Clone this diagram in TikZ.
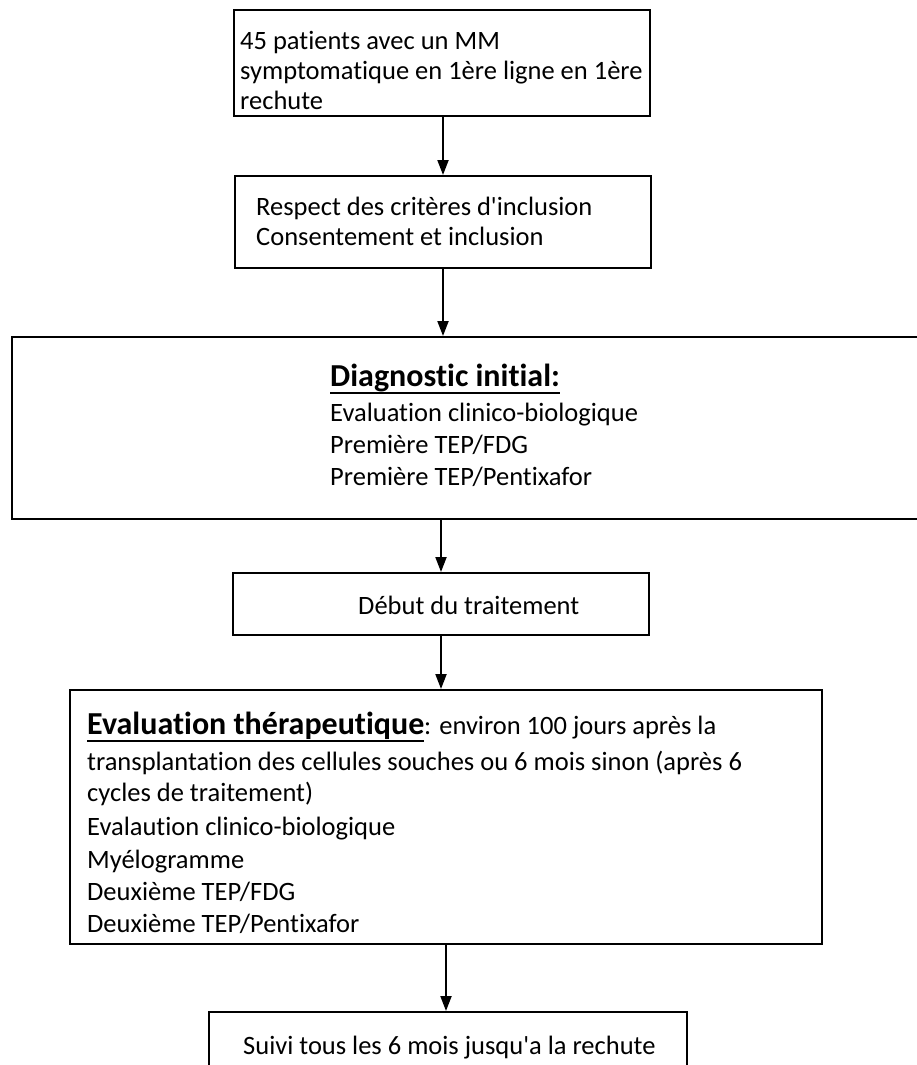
\documentclass[tikz,border=0pt]{standalone}
\usepackage{fontspec}
\setmainfont{Carlito}[Ligatures={ResetAll,NoCommon}]
\usetikzlibrary{arrows.meta}
\newcommand\bodysz{\fontsize{26.5}{31}\selectfont}
\newcommand\headsz{\fontsize{32}{36}\selectfont\bfseries}
\newcommand\myul[1]{\setbox0\hbox{#1}\leavevmode\rlap{\vrule height -5.5pt depth 7.5pt width \wd0}\box0}
\begin{document}
\begin{tikzpicture}[x=1pt,y=-1pt,
  box/.style={draw=black,line width=2pt,inner sep=0pt,fill=none},
  body/.style={font=\bodysz,inner sep=0pt,anchor=base west,text=black},
  head/.style={font=\headsz,inner sep=0pt,anchor=base west,text=black},
  arr/.style={-{Triangle[length=15pt,width=11pt]},line width=2pt,draw=black}]
\useasboundingbox (0,0) rectangle (917,1065);
\clip (0,0) rectangle (917,1065);
\fill[white] (0,0) rectangle (917,1065);

% boxes
\node[box,minimum width=416pt,minimum height=106pt] (b1) at (442,63) {};
\node[box,minimum width=416pt,minimum height=92pt] (b2) at (443,222) {};
\node[box,minimum width=914pt,minimum height=182pt] (b3) at (469,428) {};
\node[box,minimum width=416pt,minimum height=62pt] (b4) at (441,604) {};
\node[box,minimum width=752pt,minimum height=254pt] (b5) at (446,817) {};
\node[box,minimum width=478pt,minimum height=68pt] (b6) at (448,1046) {};

% box 1 text
\node[body] (t1a) at (240,50) {45 patients avec un MM};
\node[body] (t1b) at (240,80) {symptomatique en 1ère ligne en 1ère};
\node[body] (t1c) at (240,109) {rechute};

% box 2 text
\node[body] (t2a) at (256,215) {Respect des critères d\textquotesingle inclusion};
\node[body] (t2b) at (256,245) {Consentement et inclusion};

% box 3 text
\node[head] (t3h) at (330,386) {\myul{Diagnostic initial:}};
\node[body] (t3a) at (330,421) {Evaluation clinico-biologique};
\node[body] (t3b) at (330,453) {Première TEP/FDG};
\node[body] (t3c) at (330,485) {Première TEP/Pentixafor};

% box 4 text
\node[body] (t4) at (358,614) {Début du traitement};

% box 5 text
\node[body] (t5h) at (87,734) {{\headsz\myul{Evaluation thérapeutique}}: environ 100 jours après la};
\node[body] (t5a) at (87,770) {transplantation des cellules souches ou 6 mois sinon (après 6};
\node[body] (t5b) at (87,801.5) {cycles de traitement)};
\node[body] (t5c) at (87,835) {Evalaution clinico-biologique};
\node[body] (t5d) at (87,868) {Myélogramme};
\node[body] (t5e) at (87,900) {Deuxième TEP/FDG};
\node[body] (t5f) at (87,932) {Deuxième TEP/Pentixafor};

% box 6 text
\node[body] (t6) at (243,1054) {Suivi tous les 6 mois jusqu\textquotesingle a la rechute};

% connectors
\draw[arr] ([xshift=1pt]b1.south) -- ([xshift=1pt]b1.south |- b2.north);
\draw[arr] (b2.south) -- (b2.south |- b3.north);
\draw[arr] (b4.north |- b3.south) -- (b4.north);
\draw[arr] (b4.south) -- (b4.south |- b5.north);
\draw[arr] (b5.south) -- (b5.south |- b6.north);
\end{tikzpicture}
\end{document}
